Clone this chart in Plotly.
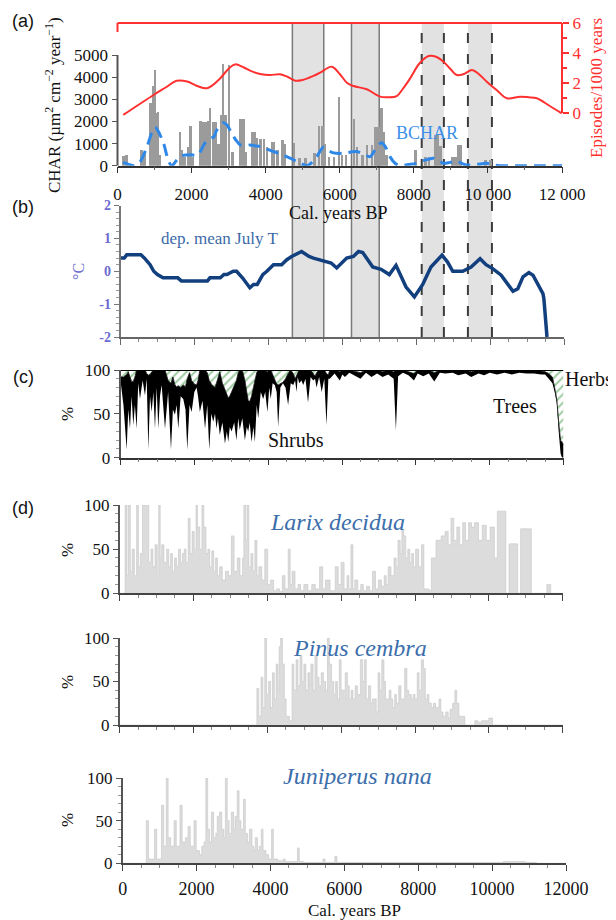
import plotly.graph_objects as go

W, H = 616, 920
OFF = 8  # page margin of the browser body
SERIF = "Liberation Serif"
SANS = "Liberation Sans"


def px(x):
    return (x - OFF) / W


def py(y):
    return 1 - (y - OFF) / H


def dx(l, r):
    return [px(l), px(r)]


def dy(top, bottom):
    return [py(bottom), py(top)]


# ---------------- (a) charcoal ----------------
char_years = [150, 230, 640, 720, 880, 950, 1000, 1050, 1080, 1130,
              1670, 1730, 1800, 1890, 1950, 2010, 2230, 2300, 2370, 2440,
              2480, 2560, 2640, 2710, 2790, 2834, 2900, 2996, 3085, 3310,
              3380, 3445, 3625, 3690, 3750, 3850, 3940, 4020, 4170, 4210,
              4300, 4434, 4500, 4750, 4900, 5065, 5300, 5430, 5515, 5580,
              5700, 5828, 5963, 6050, 6150, 6368, 6450, 6600, 6725, 6860,
              6950, 7040, 7115, 7180, 7250, 8030, 8300, 8400, 8570, 8635,
              8705, 9030, 9110, 9200, 9245, 9920, 10060]
char_vals = [420, 500, 700, 600, 2840, 3600, 4330, 2400, 2440, 480,
             1540, 700, 410, 860, 1790, 400, 2000, 1990, 1990, 2000,
             2590, 1990, 1990, 1000, 2290, 4590, 2290, 4545, 630, 2090,
             2090, 630, 1540, 1540, 1240, 1190, 1190, 860, 1090, 1090,
             700, 1160, 1000, 1010, 330, 330, 560, 1790, 1790, 1000,
             400, 410, 3120, 480, 500, 2110, 860, 500, 935, 935,
             1762, 1762, 2590, 1500, 500, 710, 410, 410, 1387, 1387,
             900, 410, 410, 935, 935, 260, 260]

bchar_years = [150, 300, 450, 600, 800, 950, 1017, 1100, 1242, 1380,
               1467, 1600, 1737, 1960, 2100, 2187, 2350, 2500, 2600, 2680,
               2860, 2950, 3085, 3200, 3310, 3450, 3580, 3700, 3850, 4000,
               4210, 4450, 4660, 4900, 5110, 5250, 5380, 5560, 5700, 5830,
               6100, 6300, 6460, 6650, 6820, 6950, 7130, 7250, 7355, 7500,
               7630, 7850, 8080, 8300, 8530, 8650, 8800, 8980, 9160, 9300,
               9430, 9700, 9970, 10150, 10330, 10800, 11400, 12000]
bchar_vals = [150, 60, 0, 150, 880, 1600, 1735, 1550, 1020, 200,
              0, 250, 450, 500, 470, 500, 1000, 1237, 1300, 1610,
              1943, 1850, 1460, 1150, 940, 900, 940, 900, 860, 780,
              640, 500, 340, 150, 0, 150, 410, 830, 680, 580,
              560, 620, 640, 520, 410, 700, 1040, 800, 410, 100,
              0, 50, 110, 250, 340, 250, 110, 150, 200, 100,
              30, 60, 110, 30, 0, 0, 0, 0]

ep_years = [155, 972, 1300, 1600, 1880, 2150, 2420, 2730, 3000, 3170,
            3400, 3580, 3850, 4120, 4390, 4600, 4800, 5000, 5290, 5470,
            5785, 6000, 6200, 6370, 6730, 7090, 7300, 7540, 7700, 7900,
            8150, 8400, 8600, 8800, 9000, 9160, 9350, 9570, 9750, 9970,
            10250, 10510, 10870, 11100, 11320, 11650, 11990]
ep_vals = [-0.13, 1.2, 1.7, 2.15, 2.1, 1.8, 1.65, 2.2, 2.95, 3.24,
           3.05, 2.82, 2.6, 2.53, 2.58, 2.4, 2.15, 2.2, 2.47, 2.69,
           3.09, 2.6, 2.0, 1.8, 1.58, 1.09, 1.05, 1.13, 1.6, 2.31,
           3.3, 3.8, 3.75, 3.42, 2.9, 2.53, 2.6, 2.87, 2.6, 2.09,
           1.5, 0.98, 1.09, 1.05, 0.98, 0.5, -0.02]

# shaded intervals (cal. years BP)
band_start = [4650, 6250, 8150, 9400]
band_end = [5500, 7000, 8750, 10050]
band_dashed = [False, False, True, True]

# ---------------- (b) July temperature ----------------
temp_years = [0, 100, 170, 550, 650, 800, 900, 1000, 1150, 1550,
              1650, 1700, 2350, 2420, 2700, 2800, 2880, 3050, 3140, 3300,
              3500, 3600, 3700, 3850, 3960, 4140, 4360, 4500, 4630, 4900,
              5100, 5220, 5490, 5700, 5850, 6050, 6120, 6300, 6440, 6554,
              6700, 6825, 7050, 7275, 7455, 7726, 7951, 8177, 8400, 8700,
              8850, 8990, 9260, 9485, 9730, 9890, 10070, 10300, 10620, 10750,
              10890, 11050, 11160, 11430, 11455, 11540]
temp_vals = [0.4, 0.4, 0.5, 0.5, 0.4, 0.2, 0.0, -0.1, -0.2, -0.2,
             -0.3, -0.3, -0.3, -0.2, -0.2, -0.1, -0.1, 0.0, 0.0, -0.2,
             -0.5, -0.4, -0.4, -0.1, 0.0, 0.2, 0.2, 0.35, 0.45, 0.6,
             0.45, 0.4, 0.3, 0.25, 0.1, 0.3, 0.4, 0.45, 0.6, 0.57,
             0.35, 0.13, 0.06, -0.1, 0.18, -0.48, -0.78, -0.4, 0.13, 0.49,
             0.28, 0.0, 0.0, 0.13, 0.38, 0.2, 0.08, -0.12, -0.61, -0.53,
             -0.17, -0.04, -0.12, -0.68, -0.83, -2.0]

# ---------------- (c) pollen groups (%) ----------------
c_years = [0, 80, 167, 210, 257, 300, 347, 390, 437, 480,
           527, 600, 663, 710, 754, 800, 844, 890, 934, 980,
           1024, 1070, 1114, 1160, 1205, 1290, 1367, 1420, 1475, 1520,
           1565, 1630, 1700, 1760, 1809, 1870, 1926, 2000, 2062, 2100,
           2150, 2220, 2290, 2350, 2404, 2460, 2513, 2560, 2600, 2640,
           2690, 2760, 2830, 2880, 2920, 2960, 3010, 3080, 3140, 3190,
           3230, 3300, 3370, 3420, 3460, 3500, 3550, 3600, 3640, 3690,
           3730, 3800, 3865, 3920, 3980, 4030, 4070, 4120, 4180, 4230,
           4270, 4330, 4400, 4470, 4540, 4610, 4680, 4730, 4770, 4800,
           4840, 4900, 4950, 5010, 5080, 5150, 5220, 5270, 5310, 5380,
           5450, 5520, 5580, 5630, 5670, 5800, 5940, 6010, 6080, 6200,
           6380, 6500, 6650, 6800, 6950, 7100, 7250, 7400, 7460, 7520,
           7650, 7800, 7950, 8050, 8200, 8350, 8500, 8650, 8800, 9000,
           9150, 9350, 9500, 9700, 9850, 10000, 10200, 10400, 10600, 10800,
           11000, 11200, 11400, 11500, 11600, 11700, 11760, 11820, 11870, 11920,
           11960, 12000]
c_trees = [88, 60, 9, 55, 33, 70, 37, 60, 33, 85,
           67, 88, 71, 90, 9, 70, 52, 75, 33, 80,
           33, 70, 83, 60, 33, 75, 9, 55, 49, 60,
           33, 70, 67, 55, 9, 60, 52, 75, 80, 70,
           52, 65, 33, 60, 9, 50, 41, 50, 33, 45,
           26, 40, 16, 30, 18, 35, 30, 40, 20, 45,
           32, 45, 20, 35, 30, 40, 18, 35, 18, 60,
           45, 75, 67, 75, 52, 80, 67, 85, 83, 75,
           35, 80, 85, 80, 60, 85, 83, 88, 75, 92,
           85, 88, 83, 90, 63, 92, 88, 90, 80, 92,
           75, 90, 37, 90, 90, 96, 88, 95, 92, 97,
           93, 90, 97, 92, 96, 92, 95, 90, 31, 93,
           97, 94, 88, 96, 93, 96, 87, 97, 96, 97,
           94, 96, 92, 96, 94, 97, 95, 97, 95, 97,
           96, 96, 95, 95, 90, 85, 75, 62, 30, 5,
           0, 0]
c_shrubs = [4, 32, 86, 43, 59, 17, 50, 32, 67, 15,
            33, 12, 29, 6, 85, 25, 46, 25, 67, 20,
            67, 30, 17, 40, 67, 13, 76, 37, 34, 21,
            49, 10, 16, 26, 81, 37, 36, 9, 3, 18,
            48, 35, 67, 37, 79, 34, 41, 30, 52, 47,
            72, 45, 61, 42, 50, 35, 45, 40, 68, 52,
            68, 55, 68, 40, 35, 24, 52, 45, 70, 37,
            55, 25, 33, 25, 46, 20, 33, 10, 5, 9,
            48, 4, 1, 10, 36, 15, 13, 2, 19, 6,
            15, 12, 17, 10, 37, 8, 8, 3, 17, 8,
            25, 10, 59, 4, 10, 4, 10, 5, 8, 3,
            5, 7, 3, 7, 4, 6, 5, 8, 69, 7,
            3, 4, 8, 4, 6, 4, 10, 3, 4, 3,
            5, 4, 6, 4, 6, 3, 4, 3, 4, 3,
            4, 3, 4, 3, 6, 7, 5, 4, 10, 15,
            18, 15]
c_herbs = [8, 8, 5, 2, 8, 13, 13, 8, 0, 0,
           0, 0, 0, 4, 6, 5, 2, 0, 0, 0,
           0, 0, 0, 0, 0, 12, 15, 8, 17, 19,
           18, 20, 17, 19, 10, 3, 12, 16, 17, 12,
           0, 0, 0, 3, 12, 16, 18, 20, 15, 8,
           2, 15, 23, 28, 32, 30, 25, 20, 12, 3,
           0, 0, 12, 25, 35, 36, 30, 20, 12, 3,
           0, 0, 0, 0, 2, 0, 0, 5, 12, 16,
           17, 16, 14, 10, 4, 0, 4, 10, 6, 2,
           0, 0, 0, 0, 0, 0, 4, 7, 3, 0,
           0, 0, 4, 6, 0, 0, 2, 0, 0, 0,
           2, 3, 0, 1, 0, 2, 0, 2, 0, 0,
           0, 2, 4, 0, 1, 0, 3, 0, 0, 0,
           1, 0, 2, 0, 0, 0, 1, 0, 1, 0,
           0, 1, 1, 2, 4, 8, 20, 34, 60, 80,
           82, 85]

# ---------------- (d) taxa (%) ----------------
larix_years = [0, 150, 200, 240, 290, 340, 400, 460, 510, 560,
               620, 680, 740, 790, 850, 900, 960, 1020, 1060, 1100,
               1140, 1200, 1275, 1330, 1380, 1430, 1487, 1540, 1593, 1650,
               1700, 1752, 1800, 1858, 1910, 1965, 2020, 2070, 2110, 2170,
               2230, 2280, 2340, 2390, 2440, 2496, 2550, 2600, 2650, 2708,
               2780, 2867, 2950, 3027, 3100, 3186, 3260, 3330, 3365, 3410,
               3450, 3500, 3557, 3610, 3663, 3720, 3770, 3850, 3930, 4010,
               4089, 4170, 4248, 4330, 4408, 4480, 4566, 4620, 4672, 4750,
               4832, 4900, 4991, 5100, 5203, 5300, 5415, 5500, 5575, 5700,
               5840, 5920, 5999, 6080, 6158, 6210, 6264, 6320, 6370, 6450,
               6530, 6600, 6689, 6770, 6849, 6930, 7008, 7090, 7167, 7220,
               7273, 7350, 7433, 7490, 7539, 7600, 7645, 7698, 7750, 7804,
               7860, 7910, 7960, 8017, 8100, 8176, 8240, 8380, 8442, 8569,
               8707, 8813, 8900, 8973, 9050, 9132, 9210, 9291, 9370, 9451,
               9530, 9610, 9720, 9822, 9930, 10035, 10150, 10230, 10460, 10545,
               10780, 10860, 11150, 11570, 11676, 12000]
larix_vals = [0, 100, 20, 100, 25, 50, 20, 100, 30, 45,
              100, 100, 100, 35, 50, 30, 55, 20, 100, 40,
              55, 35, 50, 30, 45, 25, 40, 30, 50, 35,
              45, 50, 35, 85, 45, 70, 50, 100, 75, 50,
              100, 75, 45, 50, 30, 48, 25, 40, 20, 30,
              15, 25, 20, 65, 25, 40, 20, 40, 100, 60,
              100, 30, 45, 25, 60, 20, 30, 15, 50, 10,
              15, 3, 5, 2, 20, 5, 50, 10, 25, 5,
              10, 3, 10, 3, 10, 5, 30, 5, 15, 3,
              30, 10, 35, 5, 20, 5, 55, 5, 15, 3,
              10, 3, 8, 3, 25, 5, 15, 8, 20, 10,
              30, 20, 40, 30, 60, 45, 72, 65, 40, 50,
              35, 45, 30, 50, 30, 55, 5, 3, 40, 60,
              65, 70, 55, 85, 60, 75, 55, 80, 60, 80,
              75, 80, 60, 77, 60, 75, 40, 93, 0, 56,
              0, 73, 0, 10, 0, 0]

pinus_years = [0, 3650, 3717, 3770, 3830, 3880, 3930, 3980, 4035, 4090,
               4140, 4190, 4240, 4290, 4320, 4360, 4410, 4460, 4510, 4600,
               4670, 4720, 4780, 4830, 4885, 4940, 4990, 5045, 5100, 5150,
               5180, 5240, 5290, 5350, 5400, 5460, 5520, 5580, 5630, 5680,
               5740, 5800, 5850, 5900, 5950, 6000, 6060, 6110, 6170, 6220,
               6270, 6320, 6380, 6440, 6520, 6580, 6630, 6680, 6740, 6800,
               6850, 6950, 7000, 7050, 7100, 7160, 7200, 7300, 7350, 7400,
               7450, 7500, 7560, 7620, 7720, 7780, 7830, 7900, 7950, 8000,
               8060, 8110, 8170, 8230, 8280, 8330, 8380, 8440, 8500, 8560,
               8650, 8700, 8760, 8830, 8900, 8950, 9020, 9080, 9130, 9190,
               9290, 9350, 9560, 9620, 9700, 9800, 10000, 10100, 12000]
pinus_vals = [0, 0, 42, 10, 55, 20, 100, 35, 50, 20,
              60, 30, 70, 40, 90, 100, 70, 30, 10, 5,
              70, 40, 75, 45, 80, 50, 70, 40, 60, 45,
              70, 40, 80, 55, 45, 60, 50, 40, 100, 70,
              50, 35, 50, 30, 75, 40, 40, 60, 45, 30,
              40, 30, 45, 35, 75, 50, 75, 30, 45, 25,
              30, 15, 60, 40, 75, 50, 30, 40, 30, 20,
              35, 25, 45, 30, 65, 40, 35, 30, 35, 30,
              60, 40, 75, 65, 30, 35, 25, 20, 25, 20,
              30, 15, 10, 15, 8, 18, 25, 40, 25, 10,
              10, 0, 0, 5, 3, 5, 8, 0, 0]

jun_years = [0, 550, 638, 700, 860, 920, 1050, 1110, 1180, 1230,
             1300, 1390, 1450, 1550, 1610, 1700, 1770, 1830, 1930, 1990,
             2080, 2140, 2200, 2250, 2300, 2350, 2400, 2460, 2520, 2560,
             2620, 2680, 2740, 2780, 2830, 2880, 2940, 3000, 3040, 3100,
             3150, 3200, 3270, 3320, 3380, 3430, 3500, 3550, 3590, 3650,
             3700, 3750, 3800, 3880, 3950, 4030, 4080, 4200, 4350, 4400,
             4730, 4780, 4900, 5420, 5480, 5740, 5800, 6000, 7000, 10300,
             10500, 10900, 11200, 12000]
jun_vals = [0, 0, 50, 5, 40, 5, 68, 20, 100, 30,
            20, 50, 20, 68, 25, 30, 43, 20, 50, 15,
            10, 20, 25, 100, 40, 25, 60, 30, 35, 55,
            60, 40, 30, 100, 50, 35, 60, 40, 55, 85,
            50, 40, 75, 35, 25, 40, 20, 15, 30, 15,
            20, 40, 15, 10, 5, 40, 5, 3, 5, 2,
            18, 2, 1, 5, 1, 8, 1, 1, 1, 2,
            2, 1, 0, 0]

year_ticks = [0, 2000, 4000, 6000, 8000, 10000, 12000]
year_ticktext_a = ["0", "2000", "4000", "6000", "8000", "10 000", "12 000"]
year_ticktext_bottom = ["0", "2000", "4000", "6000", "8000", "10000", "12000"]

# ---------------- figure ----------------
fig = go.Figure()

fig.add_trace(go.Bar(x=char_years, y=char_vals, width=70,
                     marker=dict(color="#9b9b9b", line=dict(width=0)),
                     xaxis="x", yaxis="y"))
fig.add_trace(go.Scatter(x=bchar_years, y=bchar_vals, mode="lines",
                         line=dict(color="#2f88e8", width=3, dash="12px,7px",
                                   shape="spline", smoothing=0.8),
                         xaxis="x", yaxis="y"))
fig.add_trace(go.Scatter(x=ep_years, y=ep_vals, mode="lines",
                         line=dict(color="#ff3030", width=2, shape="spline", smoothing=1.0),
                         xaxis="x", yaxis="y2"))

fig.add_trace(go.Scatter(x=temp_years, y=temp_vals, mode="lines",
                         line=dict(color="#123f7e", width=3.5),
                         xaxis="x2", yaxis="y3"))

fig.add_trace(go.Scatter(x=c_years, y=c_trees, stackgroup="pollen", mode="lines",
                         line=dict(width=0, color="rgba(0,0,0,0)"),
                         fillcolor="rgba(0,0,0,0)", xaxis="x3", yaxis="y4"))
fig.add_trace(go.Scatter(x=c_years, y=c_shrubs, stackgroup="pollen", mode="lines",
                         line=dict(width=0.8, color="black"),
                         fillcolor="black", xaxis="x3", yaxis="y4"))
fig.add_trace(go.Scatter(x=c_years, y=c_herbs, stackgroup="pollen", mode="lines",
                         line=dict(width=2, color="black"), fillcolor="white",
                         fillpattern=dict(shape="/", fgcolor="#3f9a46", bgcolor="white",
                                          size=6, solidity=0.35),
                         xaxis="x3", yaxis="y4"))

for yrs, vals, xa, ya in [(larix_years, larix_vals, "x4", "y5"),
                          (pinus_years, pinus_vals, "x5", "y6"),
                          (jun_years, jun_vals, "x6", "y7")]:
    fig.add_trace(go.Scatter(x=yrs, y=vals, mode="lines",
                             line=dict(color="#c6c6c6", width=0.6, shape="hv"),
                             fill="tozeroy", fillcolor="#dcdcdc",
                             xaxis=xa, yaxis=ya))


def xstyle(domain, anchor, labels=False, linecolor="#444", **kw):
    d = dict(domain=domain, anchor=anchor, range=[0, 12000], showgrid=False,
             zeroline=False, showline=True, linecolor=linecolor, linewidth=1.5,
             ticks="outside", tickcolor=linecolor, tickwidth=1.2, ticklen=6,
             tickmode="array", tickvals=year_ticks, ticktext=year_ticktext_bottom,
             minor=dict(ticks="outside", ticklen=3, tickcolor="#888",
                        tickmode="linear", tick0=0, dtick=500),
             showticklabels=labels,
             tickfont=dict(family=SERIF, size=18, color="#111"),
             ticklabelstandoff=6, fixedrange=True)
    d.update(kw)
    return d


def ystyle(domain, anchor, **kw):
    d = dict(domain=domain, anchor=anchor, range=[0, 100], showgrid=False,
             zeroline=False, showline=True, linecolor="#555", linewidth=1.5,
             ticks="outside", tickcolor="#555", ticklen=5,
             tickmode="array", tickvals=[0, 50, 100],
             minor=dict(ticks="outside", ticklen=3, tickcolor="#999",
                        tickmode="linear", tick0=0, dtick=10),
             tickfont=dict(family=SERIF, size=17, color="#111"), fixedrange=True)
    d.update(kw)
    return d


a_top, a_bot = 18, 165.7
a_y5000, a_red0, a_red_px = 55, 113, 15

layout = dict(
    width=W, height=H, margin=dict(l=0, r=0, t=0, b=0, autoexpand=False), autosize=False,
    paper_bgcolor="white", plot_bgcolor="rgba(0,0,0,0)", showlegend=False,
    bargap=0,
    xaxis=xstyle(dx(117.5, 562), "y", labels=True, linecolor="#333",
                 ticktext=year_ticktext_a, tickfont=dict(family=SERIF, size=17, color="#111"),
                 minor=dict(ticks="outside", ticklen=3, tickcolor="#666",
                            tickmode="linear", tick0=0, dtick=1000)),
    yaxis=dict(domain=dy(a_top, a_bot), anchor="x",
               range=[0, 5000 * (a_bot - a_top) / (a_bot - a_y5000)],
               tickmode="array", tickvals=[0, 1000, 2000, 3000, 4000, 5000],
               ticks="outside", ticklen=5, tickcolor="#555", showline=False,
               showgrid=False, zeroline=False,
               tickfont=dict(family=SERIF, size=17, color="#111"), fixedrange=True),
    yaxis2=dict(overlaying="y", side="right", anchor="x",
                range=[-(a_bot - a_red0) / a_red_px, 6 + (a_red0 - a_red_px * 6 - a_top) / a_red_px],
                tickmode="array", tickvals=[0, 2, 4, 6], ticks="outside", ticklen=6,
                tickcolor="#ff3030", tickwidth=1.5,
                minor=dict(ticks="outside", ticklen=4, tickcolor="#ff3030",
                           tickmode="array", tickvals=[1, 3, 5]),
                showline=False, showgrid=False, zeroline=False,
                tickfont=dict(family=SERIF, size=17, color="#ff3030"), fixedrange=True),
    xaxis2=xstyle(dx(120.5, 564), "y3", linecolor="#666"),
    yaxis3=dict(domain=dy(205.5, 337), anchor="x2", range=[-2, 2],
                tickmode="array", tickvals=[-2, -1, 0, 1, 2],
                ticktext=["-2", "-1", "0", "1", "2"],
                ticks="outside", ticklen=5, tickcolor="#777",
                minor=dict(ticks="outside", ticklen=3, tickcolor="#999",
                           tickmode="linear", tick0=-2, dtick=0.2),
                showline=True, linecolor="#777", linewidth=1.5,
                showgrid=False, zeroline=False,
                tickfont=dict(family=SERIF, size=14, color="#6b6bd0", weight="bold"),
                fixedrange=True),
    xaxis3=xstyle(dx(120.5, 563.5), "y4", linecolor="#333"),
    yaxis4=ystyle(dy(370, 457.7), "x3"),
    xaxis4=xstyle(dx(119.6, 562.7), "y5"),
    yaxis5=ystyle(dy(505, 593.3), "x4"),
    xaxis5=xstyle(dx(119.6, 562.7), "y6"),
    yaxis6=ystyle(dy(638, 725), "x5"),
    xaxis6=xstyle(dx(122.7, 566), "y7", labels=True, ticklabelstandoff=2),
    yaxis7=ystyle(dy(778, 863.3), "x6"),
)
fig.update_layout(**layout)

shapes = []
for s, e, dashed in zip(band_start, band_end, band_dashed):
    shapes.append(dict(type="rect", xref="x2", yref="paper", x0=s, x1=e,
                       y0=py(337), y1=py(23), fillcolor="#e2e2e2",
                       line=dict(width=0), layer="below"))
    for xv in (s, e):
        if dashed:
            ln = dict(color="#3c3c3c", width=2, dash="10px,11px")
        else:
            ln = dict(color="#7a7a7a", width=1.5)
        shapes.append(dict(type="line", xref="x2", yref="paper", x0=xv, x1=xv,
                           y0=py(337), y1=py(30 if dashed else 23), line=ln, layer="below"))

# axis lines of panel (a)
shapes.append(dict(type="line", xref="x domain", yref="y", x0=0, x1=0, y0=0, y1=5000,
                   line=dict(color="#555", width=2), layer="above"))
shapes.append(dict(type="line", xref="x domain", yref="y2", x0=1, x1=1, y0=0, y1=6,
                   line=dict(color="#ff3030", width=2), layer="above"))
shapes.append(dict(type="line", xref="x domain", yref="y2", x0=0, x1=1, y0=6, y1=6,
                   line=dict(color="#ff3030", width=2), layer="above"))
shapes.append(dict(type="line", xref="x domain", yref="y2", x0=0, x1=0, y0=6, y1=5.4,
                   line=dict(color="#ff3030", width=2), layer="above"))
fig.update_layout(shapes=shapes)


def ann(text, x, y, size=17, color="#111", family=SERIF, angle=0, **kw):
    d = dict(text=text, x=px(x), y=py(y), xref="paper", yref="paper",
             showarrow=False, xanchor="center", yanchor="middle", textangle=angle,
             font=dict(family=family, size=size, color=color))
    d.update(kw)
    return d


annotations = [
    ann("(a)", 23, 21, size=18, family=SANS),
    ann("(b)", 23, 207, size=18, family=SANS),
    ann("(c)", 23, 377, size=18, family=SANS),
    ann("(d)", 23, 508, size=18, family=SANS),
    ann("CHAR (µm<sup>2</sup> cm<sup>−2</sup> year<sup>−1</sup>)", 53, 105, angle=-90),
    ann("Episodes/1000 years", 597, 88, color="#ff3030", angle=-90),
    ann("Cal. years BP", 338, 213, size=18),
    ann("Cal. years BP", 354, 910, size=17),
    ann("BCHAR", 427, 133, size=18, color="#3a8fe8"),
    ann("dep. mean July T", 219, 238, size=17, color="#3b6aa8"),
    ann("°C", 78, 272, size=16, color="#6b6bd0", angle=-90),
    ann("%", 67, 414, angle=-90),
    ann("%", 67, 550, angle=-90),
    ann("%", 67, 682, angle=-90),
    ann("%", 67, 820, angle=-90),
    ann("Shrubs", 296, 440, size=20),
    ann("Trees", 515, 406, size=20),
    ann("Herbs", 589, 379, size=20),
    ann("<i>Larix decidua</i>", 337, 522, size=24, color="#3b6eab"),
    ann("<i>Pinus cembra</i>", 360, 648, size=24, color="#3b6eab"),
    ann("<i>Juniperus nana</i>", 357, 776, size=24, color="#3b6eab"),
]
fig.update_layout(annotations=annotations)

fig.write_html("out.html")
